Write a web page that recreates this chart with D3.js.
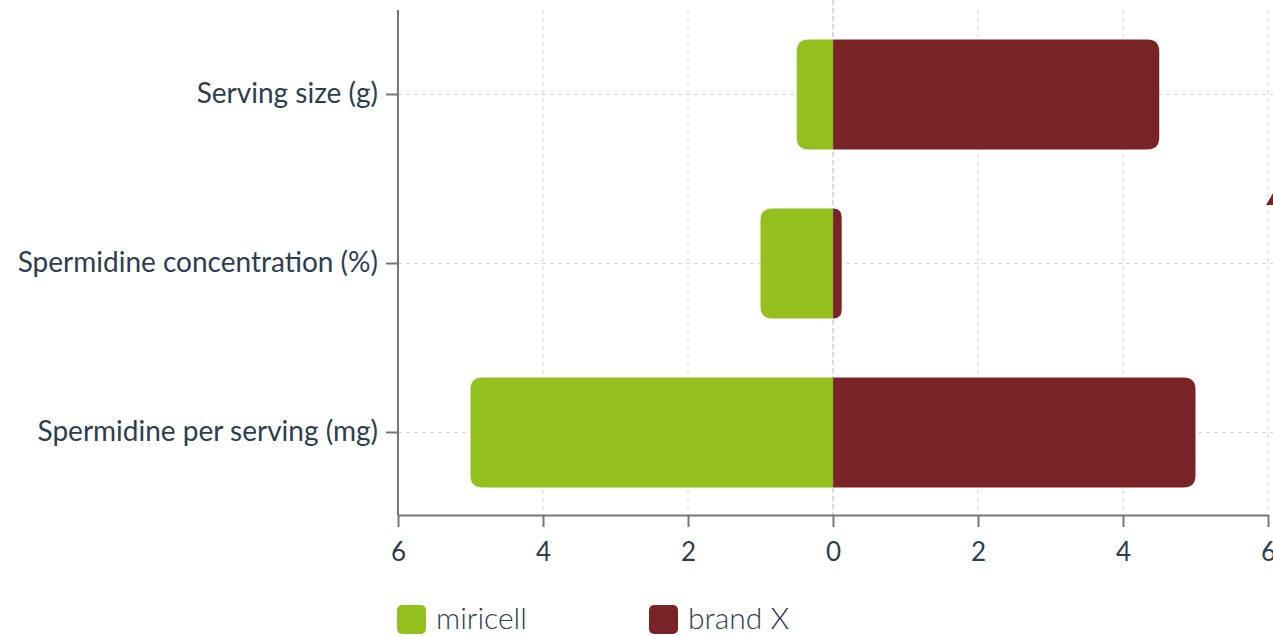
<html>
<head>
<script src="https://d3js.org/d3.v7.min.js"></script>
<style>
  body { margin: 0; background: #fff; }
  text { font-family: Lato, sans-serif; fill: #2c3e50; }
</style>
</head>
<body>
<svg id="A" width="1273" height="636"></svg>
<script>
const categories = ["Serving size (g)", "Spermidine concentration (%)", "Spermidine per serving (mg)"];
const miricell = [0.5, 1, 5];
const brandX = [4.5, 0.12, 5];
const xTicks = [-6, -4, -2, 0, 2, 4, 6];
const seriesNames = ["miricell", "brand X"];
const colors = ["#93c01d", "#782427"];

let svg = d3.select("svg#A");

const x = d3.scaleLinear().domain([-6, 6]).range([398, 1268]);
const y = d3.scaleBand().domain(categories).range([10, 517])
    .paddingInner(0.35).paddingOuter(0.175);

// grid
svg.append("g").selectAll("line").data(xTicks.filter(d => d != 0)).join("line")
    .attr("x1", d => x(d)).attr("x2", d => x(d))
    .attr("y1", 10).attr("y2", 515)
    .attr("stroke", "#d6d6d6").attr("stroke-dasharray", "4,4");
svg.append("g").selectAll("line").data(categories).join("line")
    .attr("x1", x(-6)).attr("x2", 1273)
    .attr("y1", d => y(d) + y.bandwidth() / 2).attr("y2", d => y(d) + y.bandwidth() / 2)
    .attr("stroke", "#d6d6d6").attr("stroke-dasharray", "4,4");

// bars with rounded outer corners
const r = 12;
function leftBar(x0, x1, yt, h) {
  let w = x1 - x0, rr = Math.min(r, w);
  return `M${x1},${yt} H${x0 + rr} Q${x0},${yt} ${x0},${yt + rr} V${yt + h - rr} Q${x0},${yt + h} ${x0 + rr},${yt + h} H${x1} Z`;
}
function rightBar(x0, x1, yt, h) {
  let w = x1 - x0, rr = Math.min(r, w);
  return `M${x0},${yt} H${x1 - rr} Q${x1},${yt} ${x1},${yt + rr} V${yt + h - rr} Q${x1},${yt + h} ${x1 - rr},${yt + h} H${x0} Z`;
}

svg.append("g").selectAll("path").data(categories).join("path")
    .attr("d", (d, i) => leftBar(x(-miricell[i]), x(0), y(d), y.bandwidth()))
    .attr("fill", colors[0]);
svg.append("g").selectAll("path").data(categories).join("path")
    .attr("d", (d, i) => rightBar(x(0), x(brandX[i]), y(d), y.bandwidth()))
    .attr("fill", colors[1]);

// zero line
svg.append("line")
    .attr("x1", x(0)).attr("x2", x(0)).attr("y1", 0).attr("y2", 515)
    .attr("stroke", "#888").attr("stroke-opacity", 0.6).attr("stroke-dasharray", "5,3");

// axes
const xAxis = svg.append("g").attr("transform", "translate(0,515)")
    .call(d3.axisBottom(x).tickValues(xTicks).tickFormat(d => Math.abs(d)).tickSize(12).tickSizeOuter(0));
xAxis.select(".domain").attr("stroke", "#777").attr("stroke-width", 2);
xAxis.selectAll(".tick line").attr("stroke", "#777").attr("stroke-width", 2);
xAxis.selectAll("text").attr("font-size", 26).attr("y", 28).attr("dy", "0.71em").style("fill", "#2c3e50");

const yAxis = svg.append("g").attr("transform", "translate(398,0)")
    .call(d3.axisLeft(y).tickSize(12).tickSizeOuter(0));
yAxis.select(".domain").attr("stroke", "#777").attr("stroke-width", 2).attr("d", "M0,10V515");
yAxis.selectAll(".tick line").attr("stroke", "#777").attr("stroke-width", 2);
yAxis.selectAll("text").attr("font-size", 28).attr("x", -20).style("fill", "#2c3e50");

// small arrow at right edge
svg.append("path").attr("d", "M1273,193 L1266,205 L1273,205 Z").attr("fill", colors[1]);

// legend
const lx = [397, 649];
const legend = svg.append("g").selectAll("g").data(seriesNames).join("g")
    .attr("transform", (d, i) => `translate(${lx[i]},605)`);
legend.append("rect").attr("width", 29).attr("height", 29).attr("rx", 5).attr("fill", (d, i) => colors[i]);
legend.append("text").attr("x", 39).attr("y", 24).attr("font-size", 30).attr("font-weight", 300).text(d => d);
</script>
</body>
</html>
